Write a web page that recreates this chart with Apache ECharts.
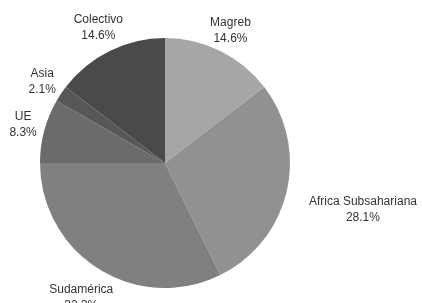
<!DOCTYPE html>
<html>
<head>
    <meta http-equiv="content-type" content="text/html; charset=utf-8">
    <script type="text/javascript" src="https://cdn.jsdelivr.net/npm/echarts@6/dist/echarts.min.js"></script>
    <style>
        html, body { margin: 0; padding: 0; background: #fff; }
        #main { width: 422px; height: 303px; }
    </style>
</head>
<body>
<div id="main"></div>
<script>
    // datos del gráfico
    var categories = ['Magreb', 'Africa Subsahariana', 'Sudamérica', 'UE', 'Asia', 'Colectivo']
    var values = [14.6, 28.1, 32.3, 8.3, 2.1, 14.6]
    var colors = ['#a6a6a6', '#919191', '#808080', '#6b6b6b', '#575757', '#4a4a4a']

    var total = values.reduce((a, b) => a + b, 0)
    var cx = 0.391, cy = 0.538, radius = 125
    var labelFont = '12px "Liberation Sans"'

    var myChart = echarts.init(document.getElementById('main'))

    // medir el ancho del texto
    var ctx = document.createElement('canvas').getContext('2d')
    ctx.font = labelFont
    function textWidth(i) {
        var a = ctx.measureText(categories[i]).width
        var b = ctx.measureText(values[i].toFixed(1) + '%').width
        return Math.max(a, b)
    }

    // etiqueta centrada fuera del sector, según el ángulo medio
    function placeLabel(params) {
        var i = params.dataIndex
        var before = 0
        for (var k = 0; k < i; k++) before += values[k]
        var mid = (before + values[i] / 2) / total * Math.PI * 2
        var dx = Math.sin(mid), dy = -Math.cos(mid)
        var w = textWidth(i), h = 32
        var off = radius + Math.abs(dx) * w * 0.72 + Math.abs(dy) * (h / 2 - 5)
        return {
            x: myChart.getWidth() * cx + dx * off,
            y: myChart.getHeight() * cy + dy * off,
            align: 'center',
            verticalAlign: 'middle'
        }
    }

    var option = {
        animation: false,
        color: colors,
        series: [{
            type: 'pie',
            center: [cx * 100 + '%', cy * 100 + '%'],
            radius: radius,
            startAngle: 90,
            clockwise: true,
            data: categories.map((c, i) => ({name: c, value: values[i]})),
            itemStyle: {borderWidth: 0},
            label: {
                position: 'outside',
                formatter: (p) => p.name + '\n' + p.value.toFixed(1) + '%',
                fontFamily: 'Liberation Sans',
                fontSize: 12,
                lineHeight: 16,
                color: '#333',
                overflow: 'none'
            },
            labelLine: {show: false},
            labelLayout: placeLabel
        }]
    }
    myChart.setOption(option)
</script>
</body>
</html>
